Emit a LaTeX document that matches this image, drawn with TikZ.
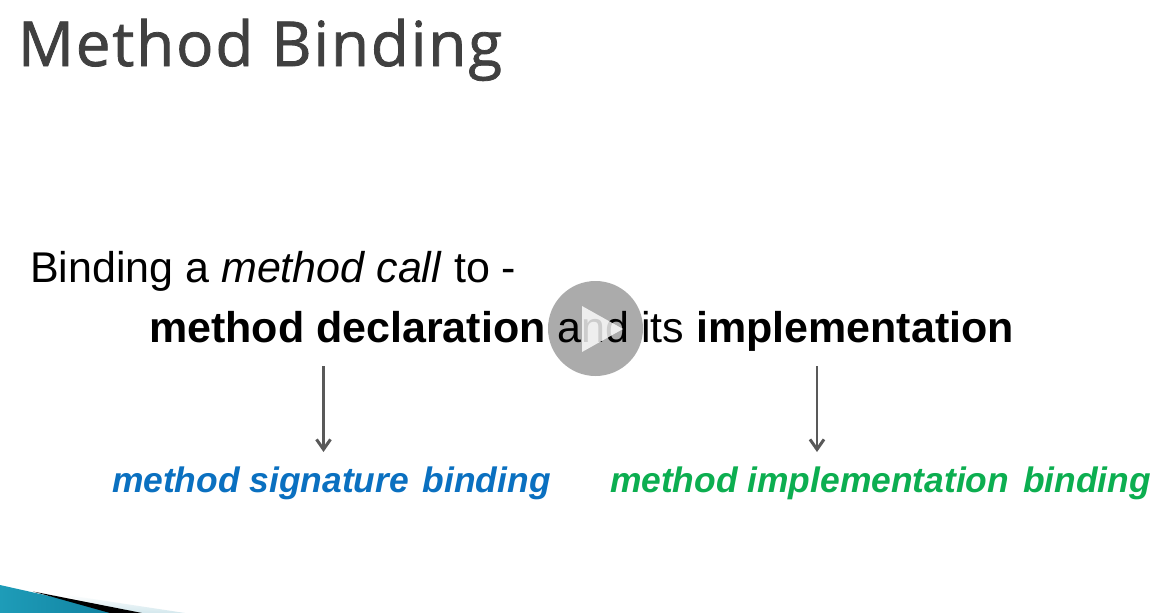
\documentclass[tikz,border=0pt]{standalone}
\usepackage{fontspec}
\setmainfont{Liberation Sans}
\newfontfamily\titlefont[LetterSpace=3,FakeBold=1.3]{Open Sans}
\usetikzlibrary{arrows.meta,shadings}
\definecolor{titlegray}{HTML}{404040}
\definecolor{linkblue}{HTML}{0A70C0}
\definecolor{linkgreen}{HTML}{0CAE50}
\definecolor{arrowgray}{HTML}{595959}
\definecolor{playgray}{HTML}{ABABAB}
\definecolor{teal1}{HTML}{1E9CB8}
\definecolor{teal2}{HTML}{0F7F9E}
\tikzset{
  x=1pt,y=-1pt,
  txt/.style={anchor=base west,inner sep=0pt,outer sep=0pt},
  body/.style={txt,font=\fontsize{43}{43}\selectfont,text=black},
  sub/.style={txt,font=\fontsize{35.4}{35.4}\selectfont\bfseries\itshape},
  ttl/.style={txt,font=\fontsize{62}{62}\selectfont\titlefont},
  pointer/.style={draw=arrowgray,line width=2.8pt,-{Straight Barb[length=10pt,width=14pt,line width=3pt]}}
}
\begin{document}
\begin{tikzpicture}
\useasboundingbox (0,0) rectangle (1162,613);
\fill[white] (0,0) rectangle (1162,613);
% corner decoration
\path[top color=white,bottom color=white!82!teal2] (60,594) -- (185,613) -- (120,613) -- cycle;
\path[left color=teal1,right color=teal2] (0,585) -- (125,613) -- (0,613) -- cycle;
\fill[black] (33,591.5) -- (142,613) -- (110,613) -- cycle;
% play disc below the text
\fill[playgray] (595.5,328.5) circle (47.5);
% title
\node[ttl,text=titlegray] (title) at (18,66) {Method Binding};
% body
\node[body] (intro) at (30,282) {Binding a \textit{method call} to -};
\node[body] (main) at (149,342) {\textbf{method declaration} and its \textbf{implementation}};
\node[sub,text=linkblue] (sig) at (112,492) {method signature\kern4pt{} binding};
\node[sub,text=linkgreen] (impl) at (610,492) {method implementation\kern4pt{} binding};
% arrows
\coordinate (a1s) at (323.5,366);
\coordinate (a1e) at (323.5,452);
\coordinate (a2s) at (817,366);
\coordinate (a2e) at (817,452);
\draw[pointer] (a1s) -- (a1e);
\draw[pointer] (a2s) -- (a2e);
% play triangle over the text
\fill[white,fill opacity=.8] (582,306) -- (623,329) -- (582,352) -- cycle;
\end{tikzpicture}
\end{document}
